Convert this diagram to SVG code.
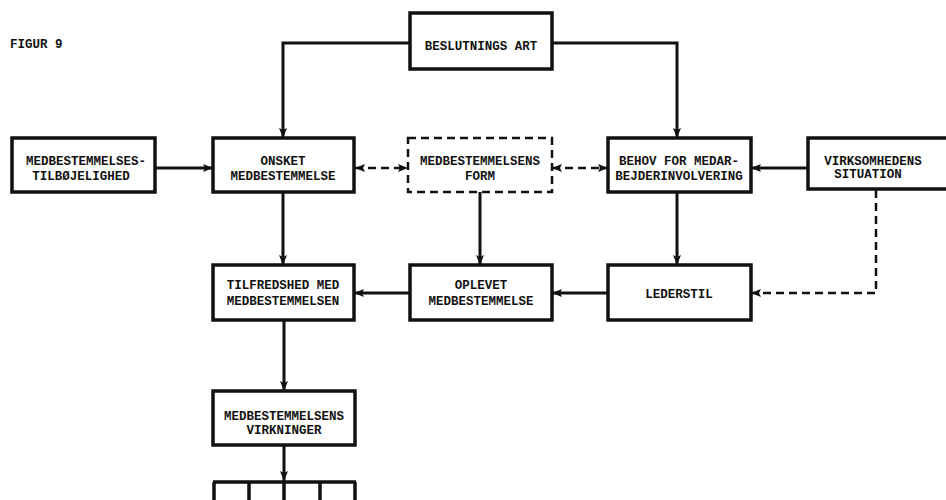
<svg xmlns="http://www.w3.org/2000/svg" width="946" height="500" viewBox="0 0 946 500">
<style>
.box{fill:#fff;stroke:#111;stroke-width:3.5}
.dbox{fill:#fff;stroke:#111;stroke-width:2.5;stroke-dasharray:8 5}
.ln{fill:none;stroke:#111;stroke-width:3}
.dl{fill:none;stroke:#111;stroke-width:2.5;stroke-dasharray:8 5}
text{font-family:"Liberation Mono","DejaVu Sans Mono",monospace;font-weight:bold;font-size:12.5px;fill:#111;text-anchor:middle}
</style>
<defs>
<marker id="ah" viewBox="0 0 10 8" refX="10" refY="4" markerWidth="10" markerHeight="8" markerUnits="userSpaceOnUse" orient="auto-start-reverse">
<path d="M0,0 L10,4 L0,8 L2,4 z" fill="#111"/>
</marker>
</defs>
<rect width="946" height="500" fill="#fff"/>
<text x="10" y="48" style="text-anchor:start">FIGUR 9</text>

<g id="connectors">
<path class="ln" d="M410,43 H283 V138" marker-end="url(#ah)"/>
<path class="ln" d="M552,43 H677 V138" marker-end="url(#ah)"/>
<path class="ln" d="M155,168 H213" marker-end="url(#ah)"/>
<path class="dl" d="M355,168 H408" marker-start="url(#ah)" marker-end="url(#ah)"/>
<path class="dl" d="M552,168 H608" marker-start="url(#ah)" marker-end="url(#ah)"/>
<path class="ln" d="M808,168 H751" marker-end="url(#ah)"/>
<path class="ln" d="M283,192 V265" marker-end="url(#ah)"/>
<path class="ln" d="M480,192 V265" marker-end="url(#ah)"/>
<path class="ln" d="M677,192 V265" marker-end="url(#ah)"/>
<path class="ln" d="M608,293 H552" marker-end="url(#ah)"/>
<path class="ln" d="M410,293 H354" marker-end="url(#ah)"/>
<path class="dl" d="M876,190 V293 H751" marker-end="url(#ah)"/>
<path class="ln" d="M284,320 V391" marker-end="url(#ah)"/>
<path class="ln" d="M284,445 V481" marker-end="url(#ah)"/>
</g>

<g id="beslutnings">
<rect class="box" x="410" y="13" width="142" height="56"/>
<text x="481" y="49.5">BESLUTNINGS ART</text>
</g>
<g id="tilboejelighed">
<rect class="box" x="12" y="138" width="143" height="54"/>
<text x="86" y="164.5">MEDBESTEMMELSES-</text>
<text x="81" y="179.5">TILBØJELIGHED</text>
</g>
<g id="onsket">
<rect class="box" x="213" y="138" width="141" height="54"/>
<text x="283" y="164.5">ONSKET</text>
<text x="283" y="179.5">MEDBESTEMMELSE</text>
</g>
<g id="form">
<rect class="dbox" x="408" y="138" width="144" height="54"/>
<text x="480" y="164.5">MEDBESTEMMELSENS</text>
<text x="480" y="179.5">FORM</text>
</g>
<g id="behov">
<rect class="box" x="608" y="138" width="143" height="54"/>
<text x="679" y="164.5">BEHOV FOR MEDAR-</text>
<text x="679" y="179.5">BEJDERINVOLVERING</text>
</g>
<g id="virksomhedens">
<rect class="box" x="808" y="138" width="145" height="51"/>
<text x="873" y="165">VIRKSOMHEDENS</text>
<text x="868" y="177.5">SITUATION</text>
</g>
<g id="tilfredshed">
<rect class="box" x="213" y="265" width="141" height="55"/>
<text x="283" y="288.5">TILFREDSHED MED</text>
<text x="283" y="304.5">MEDBESTEMMELSEN</text>
</g>
<g id="oplevet">
<rect class="box" x="410" y="265" width="142" height="55"/>
<text x="481" y="288.5">OPLEVET</text>
<text x="481" y="304.5">MEDBESTEMMELSE</text>
</g>
<g id="lederstil">
<rect class="box" x="608" y="265" width="143" height="55"/>
<text x="679" y="297.5">LEDERSTIL</text>
</g>
<g id="virkninger">
<rect class="box" x="213" y="391" width="142" height="54"/>
<text x="284" y="419.5">MEDBESTEMMELSENS</text>
<text x="284" y="433.5">VIRKNINGER</text>
</g>
<g id="bottom">
<path class="ln" style="stroke-width:3.5" d="M213,482 H356 M214,482 V500 M249,482 V500 M284,482 V500 M320,482 V500 M355,482 V500"/>
</g>
</svg>
